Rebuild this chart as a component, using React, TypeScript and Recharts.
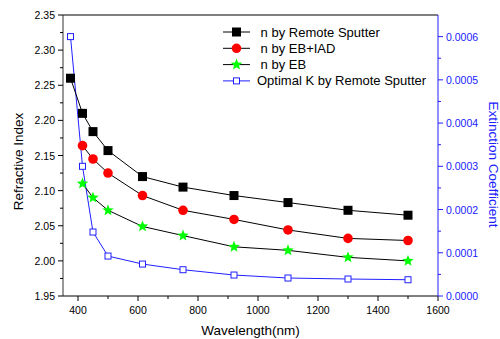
import { ComposedChart, Line, XAxis, YAxis, ReferenceLine } from "recharts"

const wavelengths = [375, 415, 450, 500, 615, 750, 920, 1100, 1300, 1500]
const nRemote = [2.26, 2.21, 2.184, 2.157, 2.12, 2.105, 2.093, 2.083, 2.072, 2.065]
const nEbIad = [null, 2.164, 2.145, 2.125, 2.093, 2.072, 2.059, 2.044, 2.032, 2.029]
const nEb = [null, 2.11, 2.09, 2.072, 2.049, 2.036, 2.02, 2.015, 2.005, 2.0]
const kRemote = [0.0006, 0.0003, 0.000148, 0.0000924, 0.0000739, 0.0000608, 0.0000485, 0.0000416, 0.0000393, 0.0000376]

const xTicks = [400, 500, 600, 700, 800, 900, 1000, 1100, 1200, 1300, 1400, 1500, 1600]
const nTicks = [1.95, 1.975, 2.0, 2.025, 2.05, 2.075, 2.1, 2.125, 2.15, 2.175, 2.2, 2.225, 2.25, 2.275, 2.3, 2.325, 2.35]
const kTicks = [0, 0.00005, 0.0001, 0.00015, 0.0002, 0.00025, 0.0003, 0.00035, 0.0004, 0.00045, 0.0005, 0.00055, 0.0006]

const legendNames = [" n by Remote Sputter", " n by EB+IAD", " n by EB", "Optimal K by Remote Sputter"]

const data = wavelengths.map((w, i) => ({
  w,
  remote: nRemote[i],
  iad: nEbIad[i],
  eb: nEb[i],
  k: kRemote[i],
}))

const FONT = "Arial, 'Liberation Sans', sans-serif"
const BLUE = "#2020ff"

function starPath(cx: number, cy: number, ro: number, ri: number) {
  let d = ""
  for (let i = 0; i < 10; i++) {
    const r = i % 2 === 0 ? ro : ri
    const a = -Math.PI / 2 + (i * Math.PI) / 5
    d += (i === 0 ? "M" : "L") + (cx + r * Math.cos(a)).toFixed(2) + "," + (cy + r * Math.sin(a)).toFixed(2)
  }
  return d + "Z"
}

function Marker({ kind, cx, cy }: { kind: string; cx: number; cy: number }) {
  if (kind === "square") return <rect x={cx - 4.5} y={cy - 4.5} width={9} height={9} fill="#000" />
  if (kind === "circle") return <circle cx={cx} cy={cy} r={4.8} fill="#ff0000" />
  if (kind === "star") return <path d={starPath(cx, cy, 6, 2.6)} fill="#00ff00" />
  return <rect x={cx - 3} y={cy - 3} width={6} height={6} fill="#fff" stroke={BLUE} strokeWidth={1} />
}

const dotFor = (kind: string) => (props: any) => {
  const { cx, cy, index } = props
  if (cx == null || cy == null || isNaN(cy)) return <g key={`${kind}-${index}`} />
  return (
    <g key={`${kind}-${index}`}>
      <Marker kind={kind} cx={cx} cy={cy} />
    </g>
  )
}

const XTick = (props: any) => {
  const { x, y, payload } = props
  const major = payload.value % 200 === 0
  return (
    <g>
      <line x1={x} x2={x} y1={y} y2={y + (major ? 5 : 3)} stroke="#000" />
      {major && (
        <text x={x} y={y + 14} textAnchor="middle" dominantBaseline="central" fontSize={10.5} fontFamily={FONT} fill="#000">
          {payload.value}
        </text>
      )}
    </g>
  )
}

const NTick = (props: any) => {
  const { x, y, payload } = props
  const v = payload.value
  const major = Math.abs(Math.round(v * 20) - v * 20) < 1e-6
  return (
    <g>
      <line x1={x} x2={x - (major ? 5 : 3)} y1={y} y2={y} stroke="#000" />
      {major && (
        <text x={x - 8} y={y} textAnchor="end" dominantBaseline="central" fontSize={10.5} fontFamily={FONT} fill="#000">
          {v.toFixed(2)}
        </text>
      )}
    </g>
  )
}

const KTick = (props: any) => {
  const { x, y, payload } = props
  const v = payload.value
  const major = Math.abs(Math.round(v * 10000) - v * 10000) < 1e-6
  return (
    <g>
      <line x1={x} x2={x + (major ? 5 : 3)} y1={y} y2={y} stroke={BLUE} />
      {major && (
        <text x={x + 8} y={y} textAnchor="start" dominantBaseline="central" fontSize={10.5} fontFamily={FONT} fill={BLUE}>
          {v.toFixed(4)}
        </text>
      )}
    </g>
  )
}

const kinds = ["square", "circle", "star", "openSquare"]
const lineColors = ["#000", "#000", "#000", BLUE]

const LegendBox = () => (
  <svg width={230} height={75} style={{ display: "block" }}>
    {legendNames.map((name, i) => {
      const y = 10 + i * 16.3
      return (
        <g key={name}>
          <line x1={1} x2={28} y1={y} y2={y} stroke={lineColors[i]} strokeWidth={1} />
          <Marker kind={kinds[i]} cx={14.5} cy={y} />
          <text x={35} y={y} dominantBaseline="central" fontSize={13} fontFamily={FONT} fill="#000" style={{ whiteSpace: "pre" }}>
            {name}
          </text>
        </g>
      )
    })}
  </svg>
)

export default function App() {
  return (
    <div style={{ position: "absolute", left: 0, top: 0, width: 500, height: 339, background: "#fff" }}>
      <ComposedChart width={500} height={339} data={data} margin={{ top: 15, right: 0, bottom: 0, left: 0 }}>
        <XAxis
          dataKey="w"
          type="number"
          domain={[350, 1600]}
          ticks={xTicks}
          allowDataOverflow
          height={43}
          stroke="#000"
          tickLine={false}
          tickSize={0}
          tickMargin={0}
          tick={<XTick />}
          interval={0}
          label={{
            value: "Wavelength(nm)",
            content: ({ viewBox }: any) => (
              <text x={viewBox.x + viewBox.width / 2} y={viewBox.y + 34.5} textAnchor="middle" dominantBaseline="central" fontSize={13.5} fontFamily={FONT} fill="#000">
                Wavelength(nm)
              </text>
            ),
          }}
        />
        <YAxis
          yAxisId="n"
          orientation="left"
          type="number"
          domain={[1.95, 2.35]}
          ticks={nTicks}
          allowDataOverflow
          width={63}
          stroke="#333"
          tickLine={false}
          tickSize={0}
          tickMargin={0}
          tick={<NTick />}
          interval={0}
          label={{
            value: "Refractive Index",
            content: ({ viewBox }: any) => {
              const cy = viewBox.y + viewBox.height / 2 + 6
              return (
                <text x={18} y={cy} transform={`rotate(-90 18 ${cy})`} textAnchor="middle" dominantBaseline="central" fontSize={13.5} fontFamily={FONT} fill="#000">
                  Refractive Index
                </text>
              )
            },
          }}
        />
        <YAxis
          yAxisId="k"
          orientation="right"
          type="number"
          domain={[0, 0.00065]}
          ticks={kTicks}
          allowDataOverflow
          width={62}
          stroke={BLUE}
          tickLine={false}
          tickSize={0}
          tickMargin={0}
          tick={<KTick />}
          interval={0}
          label={{
            value: "Extinction Coefficient",
            content: ({ viewBox }: any) => {
              const cy = viewBox.y + viewBox.height / 2 + 9
              const cx = viewBox.x + 55
              return (
                <text x={cx} y={cy} transform={`rotate(90 ${cx} ${cy})`} textAnchor="middle" dominantBaseline="central" fontSize={13.5} fontFamily={FONT} fill={BLUE}>
                  Extinction Coefficient
                </text>
              )
            },
          }}
        />
        <ReferenceLine yAxisId="n" y={2.35} stroke="#555" strokeWidth={1.5} />
        <Line yAxisId="k" dataKey="k" stroke={BLUE} strokeWidth={1} dot={dotFor("openSquare")} activeDot={false} isAnimationActive={false} />
        <Line yAxisId="n" dataKey="eb" stroke="#000" strokeWidth={1} dot={dotFor("star")} activeDot={false} isAnimationActive={false} />
        <Line yAxisId="n" dataKey="iad" stroke="#000" strokeWidth={1} dot={dotFor("circle")} activeDot={false} isAnimationActive={false} />
        <Line yAxisId="n" dataKey="remote" stroke="#000" strokeWidth={1} dot={dotFor("square")} activeDot={false} isAnimationActive={false} />
      </ComposedChart>
      <div style={{ position: "absolute", left: 222, top: 22 }}>
        <LegendBox />
      </div>
    </div>
  )
}
